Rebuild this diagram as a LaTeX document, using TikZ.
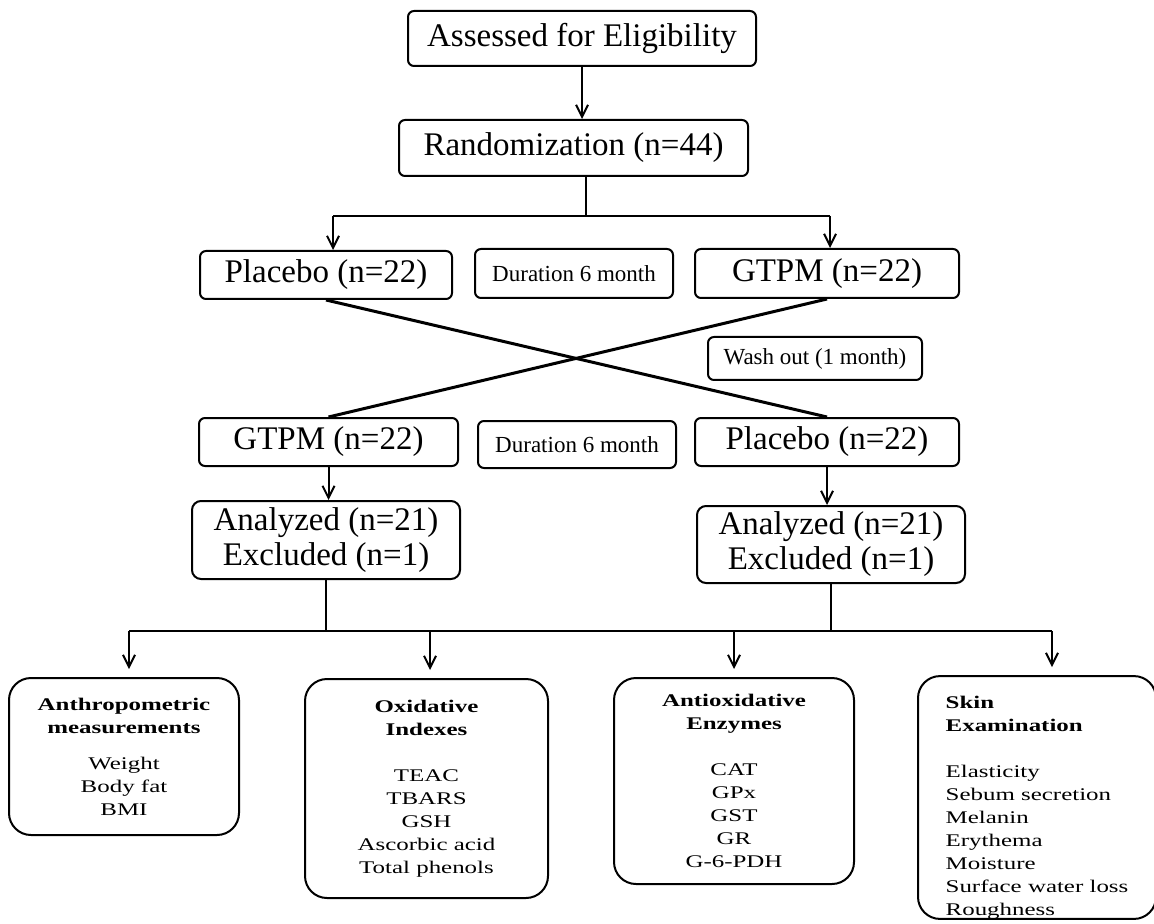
\documentclass[tikz,border=0pt]{standalone}
\usepackage{fontspec}
\setmainfont{Liberation Serif}
\newfontfamily\widefont{Liberation Serif}[FakeStretch=1.4]
\usetikzlibrary{arrows.meta}

\begin{document}
\begin{tikzpicture}[x=0.5pt, y=-0.5pt]
     \tikzstyle{box}=[draw, line width=1pt, rounded corners=3pt, inner sep=0pt, font=\fontsize{16.5}{17.5}\selectfont]
     \tikzstyle{smallbox}=[box, font=\fontsize{11.5}{13}\selectfont]
     \tikzstyle{resultbox}=[box, rounded corners=4.5pt, align=center]
     \tikzstyle{listbox}=[draw, line width=1pt, rounded corners=11pt, inner sep=0pt, font=\widefont\fontsize{8.9}{11.5}\selectfont]
     \tikzstyle{arr}=[line width=1pt, -{Straight Barb[length=6pt,width=6pt]}]
     \tikzstyle{cross}=[line width=1.5pt]
     \useasboundingbox (0,0) rectangle (1154,924);
     \node[box, minimum width=174pt, minimum height=27.5pt] (assess) at (582,38.5) {Assessed for Eligibility};
     \node[box, minimum width=174.5pt, minimum height=28pt] (rand) at (573.5,148) {Randomization (n=44)};
     \node[box, minimum width=126pt, minimum height=24pt] (pla1) at (326,275) {Placebo (n=22)};
     \node[smallbox, minimum width=99pt, minimum height=24.5pt] (dur1) at (574,273.5) {Duration 6 month};
     \node[box, minimum width=132pt, minimum height=24.5pt] (gtpm1) at (827,273.5) {GTPM (n=22)};
     \node[smallbox, minimum width=107pt, minimum height=21.5pt] (wash) at (815,358.5) {Wash out (1 month)};
     \node[box, minimum width=129.5pt, minimum height=24pt] (gtpm2) at (328.5,442) {GTPM (n=22)};
     \node[smallbox, minimum width=99pt, minimum height=23.5pt] (dur2) at (577,444.5) {Duration 6 month};
     \node[box, minimum width=132pt, minimum height=24pt] (pla2) at (827,442) {Placebo (n=22)};
     \node[resultbox, minimum width=134pt, minimum height=39pt] (ana1) at (326,540) {Analyzed (n=21)\\Excluded (n=1)};
     \node[resultbox, minimum width=134pt, minimum height=38.5pt] (ana2) at (831,544.5) {Analyzed (n=21)\\Excluded (n=1)};
     \node[listbox, align=center, minimum width=115pt, minimum height=78.5pt] (anthro) at (124,756.5)
      {\bfseries Anthropometric\\\bfseries measurements\\[6.5pt]Weight\\Body fat\\BMI};
     \node[listbox, align=center, minimum width=121.5pt, minimum height=109.5pt] (oxid) at (426.5,788.5)
      {\bfseries Oxidative\\\bfseries Indexes\\[11.5pt]TEAC\\TBARS\\GSH\\Ascorbic acid\\Total phenols};
     \node[listbox, align=center, minimum width=120pt, minimum height=103pt] (enzy) at (734,781)
      {\bfseries Antioxidative\\\bfseries Enzymes\\[11.5pt]CAT\\GPx\\GST\\GR\\G-6-PDH};
     \node[listbox, align=left, minimum width=119pt, minimum height=119.5pt] (skin) at (1037,797.5)
      {\rule{0pt}{16pt}\bfseries Skin\\\bfseries Examination\\[11.5pt]Elasticity\\Sebum secretion\\Melanin\\Erythema\\Moisture\\Surface water loss\\Roughness};
     \draw[arr] (assess.south) -- (assess.south |- rand.north);
     \coordinate (split) at (586,216);
     \draw[line width=1pt] (split |- rand.south) -- (split);
     \draw[line width=1pt] (333,216) -- (830,216);
     \draw[arr] (333,216) -- (333,216 |- pla1.north);
     \draw[arr] (830,216) -- (830,216 |- gtpm1.north);
     \draw[cross] (pla1.south) -- (pla2.north);
     \draw[cross] (gtpm1.south) -- (gtpm2.north);
     \draw[arr] (gtpm2.south) -- (gtpm2.south |- ana1.north);
     \draw[arr] (pla2.south) -- (pla2.south |- ana2.north);
     \coordinate (row) at (129,631);
     \draw[line width=1pt] (ana1.south) -- (ana1.south |- row);
     \draw[line width=1pt] (ana2.south) -- (ana2.south |- row);
     \draw[line width=1pt] (row) -- (1052,631);
     \foreach \x/\m in {129/anthro, 430/oxid, 734/enzy, 1052/skin}
      \draw[arr, shorten >=4pt] (\x,631) -- (\x,631 |- \m.north);
\end{tikzpicture}
\end{document}
